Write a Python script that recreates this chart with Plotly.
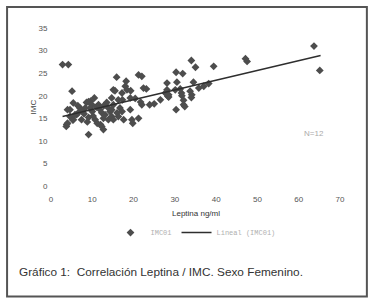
import plotly.graph_objects as go

# Leptina (ng/ml) vs IMC
leptina = [2.8, 4.2, 5.1, 5.4, 4.0, 4.6, 3.8, 3.7, 5.4, 6.2, 7.0, 9.1,
           10.5, 8.6, 9.6, 9.1, 9.9, 9.5, 11.5, 11.9, 12.3, 13.1, 12.7, 13.9,
           14.3, 10.7, 12.3, 12.7, 12.0, 13.9, 14.7, 15.1, 7.4, 5.3, 9.1, 5.8,
           6.6, 7.4, 8.3, 4.6, 4.0, 8.0, 10.0, 11.0, 10.2, 13.5, 6.5, 8.8,
           11.2, 12.8,
           15.1, 15.9, 18.2, 18.0, 21.2, 22.0, 15.5, 17.2, 18.4, 19.3, 22.4, 23.1,
           14.7, 16.3, 17.3, 19.2, 20.4, 22.0, 23.9, 25.0, 26.5, 28.1, 28.3, 16.7,
           17.2, 16.3, 16.0, 15.1, 19.2, 17.6, 19.6, 19.8, 21.2, 14.7, 21.7, 27.7,
           34.0, 35.0, 39.4, 30.3, 31.9, 30.5, 28.1, 34.5, 30.1, 31.3, 31.6, 31.7,
           32.1, 33.7, 34.1, 34.0, 35.8, 37.0, 38.2, 28.5, 30.3, 32.1, 32.4, 28.5,
           47.1, 47.5, 63.7, 65.1]
imc = [26.9, 26.9, 21.0, 18.4, 16.9, 15.4, 13.6, 13.2, 14.7, 15.8, 17.3, 11.4,
       19.5, 18.5, 18.8, 18.7, 18.0, 17.3, 18.0, 16.9, 16.2, 15.8, 15.0, 17.3,
       16.5, 14.7, 13.2, 12.5, 13.6, 14.7, 15.4, 14.7, 14.7, 14.6, 15.2, 15.8,
       16.2, 16.9, 17.3, 16.9, 13.9, 16.0, 16.5, 17.5, 15.5, 18.5, 17.8, 14.2,
       13.9, 17.8,
       21.3, 24.1, 23.2, 22.1, 24.6, 24.3, 21.1, 20.6, 21.3, 21.1, 21.7, 21.5,
       19.5, 19.1, 19.1, 19.5, 19.4, 18.0, 18.0, 18.2, 19.1, 21.3, 19.9, 17.3,
       16.5, 15.4, 16.2, 18.0, 16.9, 14.7, 14.7, 13.9, 15.0, 16.9, 18.6, 20.6,
       27.8, 26.3, 26.5, 25.2, 24.9, 23.0, 22.8, 23.0, 21.3, 21.5, 20.6, 20.0,
       19.0, 21.0, 20.2, 19.6, 21.7, 22.1, 22.7, 19.7, 16.9, 18.0, 17.6, 20.2,
       28.2, 27.6, 31.0, 25.6]

# Linear trendline endpoints
trend_x = [2.8, 65.3]
trend_y = [15.4, 28.9]

x_ticks = [0, 10, 20, 30, 40, 50, 60, 70]
y_ticks = [0, 5, 10, 15, 20, 25, 30, 35]

fig = go.Figure()
fig.add_trace(go.Scatter(
    x=leptina, y=imc, mode="markers", name="IMC01",
    marker=dict(symbol="diamond", size=6, color="#4d4d4d", line=dict(width=0)),
))
fig.add_trace(go.Scatter(
    x=trend_x, y=trend_y, mode="lines", name="Lineal (IMC01)",
    line=dict(color="#2e2e2e", width=1.5),
))

tick_font = dict(family="Arial, Liberation Sans, sans-serif", size=8, color="#555555")

fig.update_xaxes(range=[0, 70], tickvals=x_ticks, showgrid=False, zeroline=False,
                 showline=False, tickfont=tick_font, ticks="outside", ticklen=5,
                 tickcolor="rgba(0,0,0,0)")
fig.update_yaxes(range=[0, 35], tickvals=y_ticks, showgrid=False, zeroline=False,
                 showline=False, tickfont=tick_font, ticks="outside", ticklen=1,
                 tickcolor="rgba(0,0,0,0)")

ann = []
ann.append(dict(text="IMC", xref="paper", yref="paper", x=-0.0865, y=0.5,
                textangle=-90, showarrow=False,
                font=dict(family="Arial, Liberation Sans, sans-serif", size=8, color="#444444")))
ann.append(dict(text="Leptina ng/ml", xref="paper", yref="paper", x=0.5, y=-0.177,
                yanchor="middle", showarrow=False,
                font=dict(family="Arial, Liberation Sans, sans-serif", size=8, color="#333333")))
ann.append(dict(text="N=12", xref="x", yref="y", x=63.6, y=11.6, showarrow=False,
                font=dict(family="Arial, Liberation Sans, sans-serif", size=8, color="#aaaaaa")))
ann.append(dict(text="Gráfico 1:  Correlación Leptina / IMC. Sexo Femenino.",
                xref="paper", yref="paper", x=-0.116, y=-0.544, xanchor="left",
                yanchor="middle", showarrow=False,
                font=dict(family="Arial, Liberation Sans, sans-serif", size=11.8, color="#333333")))

fig.update_layout(
    width=375, height=303,
    margin=dict(l=51, r=35, t=28, b=117, autoexpand=False),
    paper_bgcolor="white", plot_bgcolor="white",
    showlegend=True,
    legend=dict(orientation="h", x=0.5, xanchor="center", y=-0.295, yanchor="middle",
                font=dict(family="Liberation Mono, monospace", size=7, color="#b0b0b0"),
                bgcolor="rgba(0,0,0,0)"),
    annotations=ann,
    shapes=[dict(type="rect", xref="paper", yref="paper",
                 x0=-0.152, x1=1.093, y0=-0.7, y1=1.133,
                 line=dict(color="#555555", width=2), fillcolor="rgba(0,0,0,0)")],
)

fig.write_html("out.html", config={"displayModeBar": False},
               post_script="document.body.style.margin='0';")
